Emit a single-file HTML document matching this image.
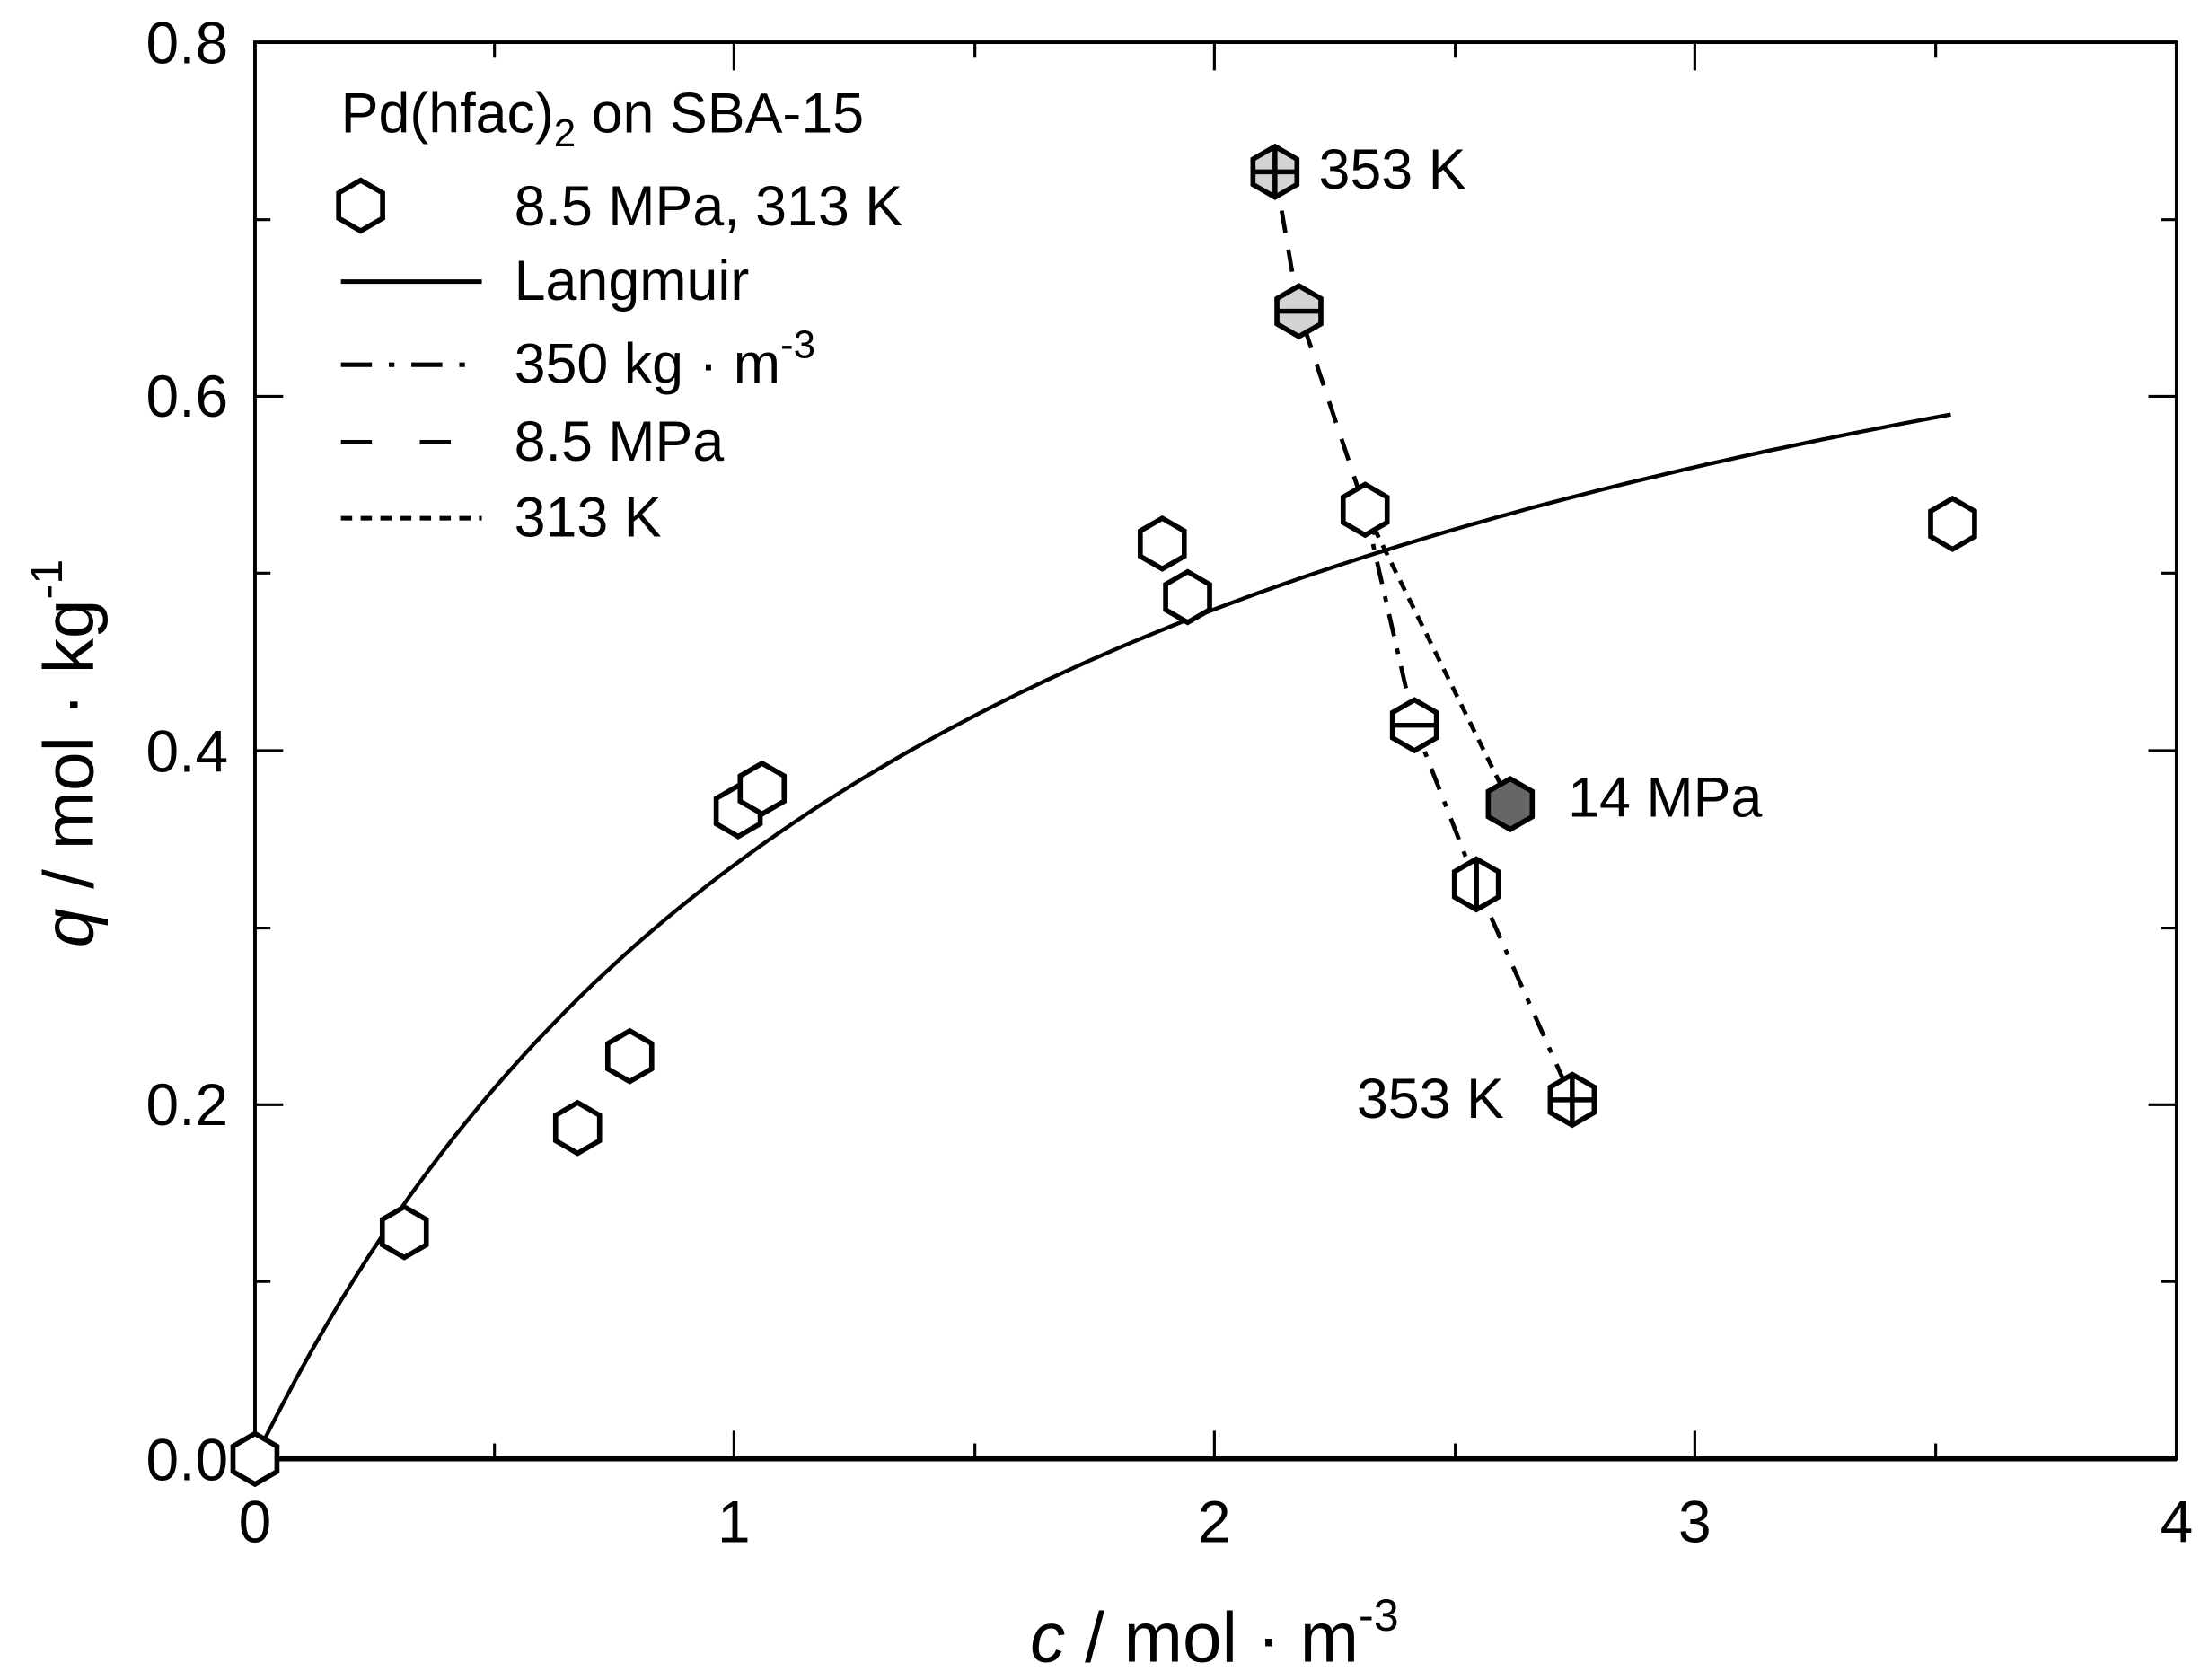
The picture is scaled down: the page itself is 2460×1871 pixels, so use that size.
<!DOCTYPE html>
<html><head><meta charset="utf-8"><style>
html,body{margin:0;padding:0;background:#fff;}
svg{display:block;}
text{font-family:"Liberation Sans",Arial,sans-serif;fill:#000;}
</style></head><body>
<svg width="2460" height="1871" viewBox="0 0 1568 1193" preserveAspectRatio="none" xmlns="http://www.w3.org/2000/svg">
<defs>
<path id="hx" d="M0,-18 L15.6,-9 L15.6,9 L0,18 L-15.6,9 L-15.6,-9 Z"/>
</defs>
<rect x="181" y="30" width="1364" height="1006" fill="none" stroke="#000" stroke-width="2.5"/>
<line x1="181" y1="1036" x2="1545" y2="1036" stroke="#000" stroke-width="3.5"/>
<g stroke="#000" stroke-width="2">
<line x1="521" y1="1036" x2="521" y2="1016"/><line x1="862" y1="1036" x2="862" y2="1016"/><line x1="1203" y1="1036" x2="1203" y2="1016"/>
<line x1="351" y1="1036" x2="351" y2="1025"/><line x1="692" y1="1036" x2="692" y2="1025"/><line x1="1033" y1="1036" x2="1033" y2="1025"/><line x1="1374" y1="1036" x2="1374" y2="1025"/>
<line x1="521" y1="30" x2="521" y2="50"/><line x1="862" y1="30" x2="862" y2="50"/><line x1="1203" y1="30" x2="1203" y2="50"/>
<line x1="351" y1="30" x2="351" y2="41"/><line x1="692" y1="30" x2="692" y2="41"/><line x1="1033" y1="30" x2="1033" y2="41"/><line x1="1374" y1="30" x2="1374" y2="41"/>
<line x1="181" y1="784.5" x2="201" y2="784.5"/><line x1="181" y1="533" x2="201" y2="533"/><line x1="181" y1="281.5" x2="201" y2="281.5"/>
<line x1="181" y1="910" x2="192" y2="910"/><line x1="181" y1="659" x2="192" y2="659"/><line x1="181" y1="407" x2="192" y2="407"/><line x1="181" y1="156" x2="192" y2="156"/>
<line x1="1545" y1="784.5" x2="1525" y2="784.5"/><line x1="1545" y1="533" x2="1525" y2="533"/><line x1="1545" y1="281.5" x2="1525" y2="281.5"/>
<line x1="1545" y1="910" x2="1534" y2="910"/><line x1="1545" y1="659" x2="1534" y2="659"/><line x1="1545" y1="407" x2="1534" y2="407"/><line x1="1545" y1="156" x2="1534" y2="156"/>
</g>
<g font-size="42" text-anchor="end">
<text x="162" y="1051">0.0</text><text x="162" y="799">0.2</text><text x="162" y="548">0.4</text><text x="162" y="296">0.6</text><text x="162" y="45">0.8</text>
</g>
<g font-size="42" text-anchor="middle">
<text x="181" y="1095">0</text><text x="521" y="1095">1</text><text x="862" y="1095">2</text><text x="1203" y="1095">3</text><text x="1545" y="1095">4</text>
</g>
<text x="862" y="1180" font-size="50" text-anchor="middle"><tspan font-style="italic">c</tspan> / mol · m<tspan font-size="32" dy="-22">-3</tspan></text>
<text transform="translate(66,535) rotate(-90)" font-size="50" text-anchor="middle"><tspan font-style="italic">q</tspan> / mol · kg<tspan font-size="32" dy="-22">-1</tspan></text>
<polyline id="lang" fill="none" stroke="#000" stroke-width="2.8" points="181,1036 1388,293"/>
<script>
(function(){var p=[];for(var i=0;i<=120;i++){var c=3.53*i/120;var q=0.841*0.665*c/(1+0.665*c);p.push((181+341*c).toFixed(1)+","+(1036-1257.5*q).toFixed(1));}
document.getElementById("lang").setAttribute("points",p.join(" "));})();
</script>
<polyline fill="none" stroke="#000" stroke-width="3" stroke-dasharray="16,12" points="905,122 922,221 969,362 978,385"/>
<polyline fill="none" stroke="#000" stroke-width="3" stroke-dasharray="8,6" points="969,362 1072,571"/>
<polyline fill="none" stroke="#000" stroke-width="3" stroke-dasharray="16,9,4,9" points="969,362 1004,515 1048,628 1116,781"/>
<g fill="#fff" stroke="#000" stroke-width="3.6">
<use href="#hx" x="181" y="1036"/><use href="#hx" x="287" y="875"/><use href="#hx" x="410" y="801"/><use href="#hx" x="447" y="750"/>
<use href="#hx" x="524" y="576"/><use href="#hx" x="541" y="560"/><use href="#hx" x="825" y="386"/><use href="#hx" x="843" y="424"/>
<use href="#hx" x="1386" y="372"/><use href="#hx" x="969" y="362"/>
<use href="#hx" x="1004" y="515"/><use href="#hx" x="1048" y="628"/><use href="#hx" x="1116" y="781"/>
<use href="#hx" x="905" y="122" fill="#d3d3d3"/><use href="#hx" x="922" y="221" fill="#d3d3d3"/>
<use href="#hx" x="1072" y="571" fill="#666"/>
<use href="#hx" x="256" y="146"/>
</g>
<g stroke="#000" stroke-width="3.5">
<line x1="889" y1="122" x2="921" y2="122"/><line x1="905" y1="104" x2="905" y2="140"/>
<line x1="906" y1="221" x2="938" y2="221"/>
<line x1="988" y1="515" x2="1020" y2="515"/>
<line x1="1048" y1="610" x2="1048" y2="646"/>
<line x1="1100" y1="781" x2="1132" y2="781"/><line x1="1116" y1="763" x2="1116" y2="799"/>
</g>
<g font-size="40">
<text x="936" y="134">353 K</text>
<text x="1113" y="580">14 MPa</text>
<text x="963" y="794">353 K</text>
</g>
<g font-size="40">
<text x="242" y="94">Pd(hfac)<tspan font-size="28" dy="10">2</tspan><tspan dy="-10"> on SBA-15</tspan></text>
<text x="365" y="160">8.5 MPa, 313 K</text>
<text x="365" y="213">Langmuir</text>
<text x="365" y="272">350 kg · m<tspan font-size="28" dy="-18">-3</tspan></text>
<text x="365" y="327">8.5 MPa</text>
<text x="365" y="381">313 K</text>
</g>
<g stroke="#000" stroke-width="3.2">
<line x1="242" y1="200" x2="342" y2="200"/>
<line x1="242" y1="259" x2="342" y2="259" stroke-dasharray="22,12,4,12"/>
<line x1="242" y1="314" x2="320" y2="314" stroke-dasharray="22,34"/>
<line x1="242" y1="368" x2="342" y2="368" stroke-dasharray="8,6"/>
</g>
</svg>
</body></html>
